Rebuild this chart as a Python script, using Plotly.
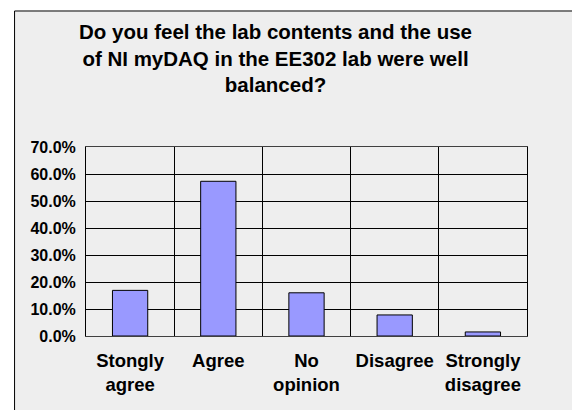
import plotly.graph_objects as go

categories = ["Stongly<br>agree", "Agree", "No<br>opinion", "Disagree", "Strongly<br>disagree"]
values = [0.169, 0.573, 0.160, 0.078, 0.015]
y_ticks = [0.0, 0.1, 0.2, 0.3, 0.4, 0.5, 0.6, 0.7]
title_text = "Do you feel the lab contents and the use<br>of NI myDAQ in the EE302 lab were well<br>balanced?"

FONT = "Liberation Sans, Arial, sans-serif"

fig = go.Figure()
fig.add_trace(go.Bar(
    x=categories, y=values,
    marker=dict(color="#9999ff", line=dict(color="#000000", width=1)),
    hoverinfo="x+y",
))

fig.update_layout(
    width=580, height=410,
    margin=dict(l=78, r=61, t=139, b=82),
    paper_bgcolor="#ffffff",
    plot_bgcolor="rgba(0,0,0,0)",
    bargap=0.6,
    showlegend=False,
    font=dict(family=FONT, color="#000000"),
    xaxis=dict(
        type="category", tickson="boundaries",
        showgrid=True, gridcolor="#000000", gridwidth=1,
        showline=True, linecolor="#404040", linewidth=1, mirror=True,
        ticks="", ticklabelstandoff=8,
        tickangle=0, automargin=False,
        tickfont=dict(family=FONT, size=18.5, weight="bold", color="#000000"),
        fixedrange=True,
    ),
    yaxis=dict(
        range=[0, 0.7], tickvals=y_ticks, tickformat=".1%",
        showgrid=True, gridcolor="#000000", gridwidth=1,
        showline=True, linecolor="#000000", linewidth=1, mirror=True,
        zeroline=False, automargin=False,
        ticks="", ticklabelstandoff=6,
        tickfont=dict(family=FONT, size=16, weight="bold", color="#000000"),
        fixedrange=True,
    ),
    shapes=[dict(
        type="rect", xref="paper", yref="paper", layer="below",
        x0=-0.162, x1=1.12, y0=-0.646, y1=1.7196,
        fillcolor="#eeeeee", line=dict(color="#000000", width=1),
    )],
    annotations=[dict(
        text=title_text, xref="paper", yref="paper",
        x=0.429, y=1.685, xanchor="center", yanchor="top",
        showarrow=False, align="center",
        font=dict(family=FONT, size=20.5, weight="bold", color="#000000"),
    )],
)

fig.write_html("out.html")
